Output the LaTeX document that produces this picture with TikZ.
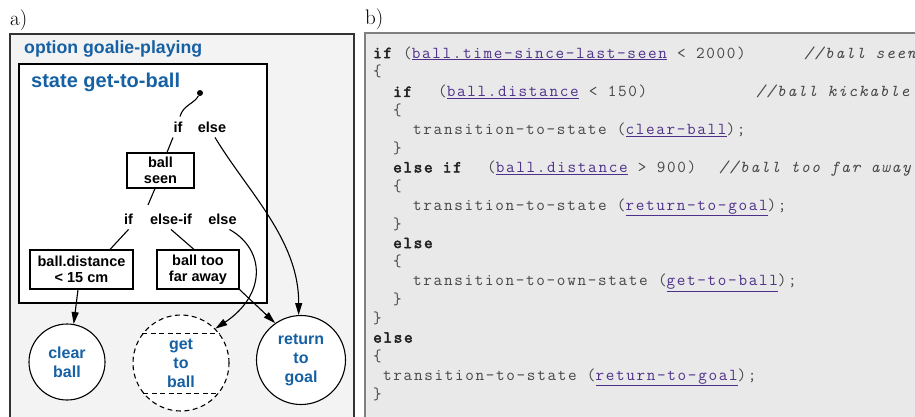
\documentclass[tikz,border=0pt]{standalone}
\usepackage{fontspec}
\usetikzlibrary{arrows.meta}
\newfontfamily\sansfam{Liberation Sans}
\newfontfamily\codefam{Latin Modern Mono}[LetterSpace=10, AutoFakeBold=3]
\definecolor{titleblue}{RGB}{22,96,164}
\definecolor{codegray}{RGB}{70,70,70}
\definecolor{codekey}{RGB}{35,35,35}
\definecolor{codelink}{RGB}{78,48,138}
\definecolor{panelA}{RGB}{243,243,243}
\definecolor{panelB}{RGB}{233,233,233}
\definecolor{panelBline}{RGB}{128,128,128}
\newcommand\lnk[1]{\textcolor{codelink}{\underline{#1}}}
\newcommand\kw[1]{\textcolor{codekey}{\bfseries #1}}
\tikzset{
  panellabel/.style={anchor=base west, inner sep=0pt, font=\fontsize{21}{21}\selectfont},
  title/.style={anchor=base west, inner sep=0pt, text=titleblue, font=\sansfam\bfseries\fontsize{#1}{#1}\selectfont},
  branch/.style={inner sep=5pt, text height=10.5pt, text depth=0pt, font=\sansfam\bfseries\fontsize{14.5}{16}\selectfont},
  testbox/.style={draw, fill=white, line width=1.1pt, align=center, inner sep=0pt, font=\sansfam\bfseries\fontsize{14.5}{16}\selectfont},
  statecirc/.style={circle, draw, fill=white, line width=1.1pt, align=center, inner sep=0pt, text=titleblue, font=\sansfam\bfseries\fontsize{16}{19}\selectfont},
  trans/.style={line width=1.1pt},
  transarrow/.style={line width=1.1pt, -{Triangle[length=12pt,width=7pt]}},
  code/.style={anchor=base west, inner sep=0pt, text=codegray, font=\codefam\fontsize{16.7}{19}\selectfont},
  cmt/.style={code, font=\codefam\itshape\fontsize{16.7}{19}\selectfont},
}
\begin{document}
\begin{tikzpicture}[x=1pt, y=-1pt]
\useasboundingbox (0,0) rectangle (915,416);
\clip (0,0) rectangle (915,416);

% panel labels
\node[panellabel] (la) at (10,25) {a)};
\node[panellabel] (lb) at (365,24) {b)};

% ---------- a) option and its state machine ----------
\draw[fill=panelA, draw=black!80, line width=1.2pt] (10,34) rectangle (354,440);
\node[title=17.7] (opt) at (24,53) {option goalie-playing};
\draw[fill=white, line width=1.1pt] (19,64) rectangle (267,303);
\node[title=20] (st) at (31,87) {state get-to-ball};

\node[circle, fill=black, inner sep=0pt, minimum size=6pt] (init) at (200,93) {};
\node[branch] (if1) at (178,127) {if};
\node[branch] (else1) at (212,127) {else};
\node[testbox, minimum width=67pt, minimum height=35pt] (seen) at (160.5,170.5) {ball\\seen};
\coordinate (fork) at (148,205);
\node[branch] (if2) at (128.5,219) {if};
\node[branch] (elseif2) at (171,219) {else-if};
\node[branch] (else2) at (222.5,219) {else};
\node[testbox, minimum width=103pt, minimum height=39pt] (dist) at (81.5,269.5) {ball.distance\\< 15 cm};
\node[testbox, minimum width=82pt, minimum height=39pt] (far) at (198,269.5) {ball too\\far away};

\node[statecirc, minimum size=76pt] (clear) at (67,362) {clear\\ball};
\node[statecirc, minimum size=96pt, dashed, dash pattern=on 5pt off 3.5pt] (getto) at (181,363) {get\\to\\ball};
\node[statecirc, minimum size=89pt] (ret) at (301,360) {return\\to\\goal};
\draw[dashed, dash pattern=on 5pt off 3.5pt, line width=1.1pt]
  (getto.143) -- (getto.37) (getto.-141) -- (getto.-39);

% transitions
\draw[trans] (init) .. controls (194,104) and (183,105) .. ([xshift=2pt]if1.north);
\draw[trans] ([xshift=-5pt]if1.south) -- ([xshift=6.5pt]seen.north);
\draw[transarrow] ([xshift=3pt]else1.south) .. controls (248,192) and (299,240) .. (ret.93);
\draw[trans] ([xshift=-5.5pt]seen.south) -- (fork);
\draw[trans] (if2.south) -- ([xshift=28.5pt]dist.north);
\draw[trans] (elseif2.south) -- ([xshift=-4pt]far.north);
\draw[transarrow] ([xshift=7pt]else2.south) .. controls (266,250) and (266,295) .. (getto.45);
\draw[transarrow] ([xshift=-3.5pt]dist.south) -- (clear.80);
\draw[transarrow] (far.south east) -- (ret.125);

% ---------- b) the same behaviour as code ----------
\draw[fill=panelB, draw=panelBline, line width=2pt] (365,33) rectangle (940,440);

\node[code] (k1) at (373,58) {\kw{if}};
\node[code] (c1) at (403,58) {(\lnk{ball.time-since-last-seen} < 2000)};
\node[cmt] (m1) at (804,58) {//ball seen};
\node[code] (b2) at (373,76.9) {\{};
\node[code] (k3) at (393,96.8) {\kw{if}};
\node[code] (c3) at (438,96.8) {(\lnk{ball.distance} < 150)};
\node[cmt] (m3) at (756,96.8) {//ball kickable};
\node[code] (b4) at (393,115.7) {\{};
\node[code] (c5) at (413,134.6) {transition-to-state (\lnk{clear-ball});};
\node[code] (b6) at (393,153.5) {\}};
\node[code] (k7) at (393,172.4) {\kw{else if}};
\node[code] (c7) at (487,172.4) {(\lnk{ball.distance} > 900)};
\node[cmt] (m7) at (719,172.4) {//ball too far away};
\node[code] (b8) at (393,191.3) {\{};
\node[code] (c9) at (413,210.2) {transition-to-state (\lnk{return-to-goal});};
\node[code] (b10) at (393,229.1) {\}};
\node[code] (k11) at (393,248) {\kw{else}};
\node[code] (b12) at (393,266.9) {\{};
\node[code] (c13) at (413,285.8) {transition-to-own-state (\lnk{get-to-ball});};
\node[code] (b14) at (393,304.7) {\}};
\node[code] (b15) at (373,323.6) {\}};
\node[code] (k16) at (373,342.5) {\kw{else}};
\node[code] (b17) at (373,361.4) {\{};
\node[code] (c18) at (383,380.3) {transition-to-state (\lnk{return-to-goal});};
\node[code] (b19) at (373,399.2) {\}};
\end{tikzpicture}
\end{document}
